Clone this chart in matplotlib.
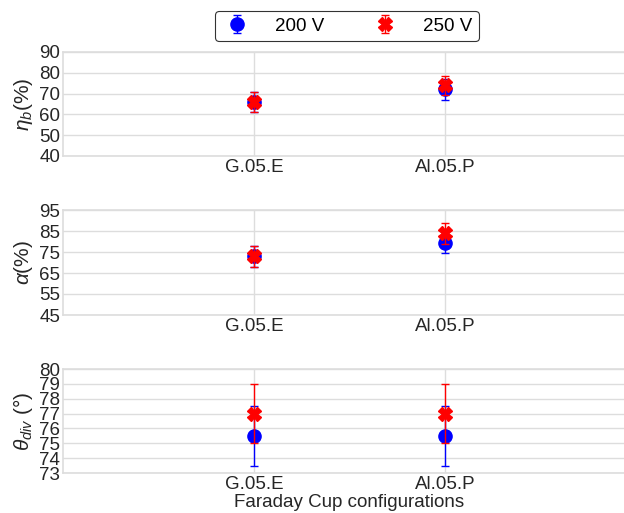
import matplotlib
matplotlib.use("Agg")
import matplotlib.pyplot as plt
import numpy as np

categories = ["G.05.E", "Al.05.P"]
series = ["200 V", "250 V"]

eta_200 = [66, 72]
eta_200_err = [5, 5]
eta_250 = [66, 74]
eta_250_err = [5, 4.5]

alpha_200 = [73, 79.5]
alpha_200_err = [5, 5]
alpha_250 = [73, 84]
alpha_250_err = [5, 5]

theta_200 = [75.5, 75.5]
theta_200_err = [2, 2]
theta_250 = [77, 77]
theta_250_err = [2, 2]

fam = 'Liberation Sans'
plt.rcParams['font.family'] = [fam, 'DejaVu Sans']
plt.rcParams['mathtext.fontset'] = 'custom'
plt.rcParams['mathtext.rm'] = fam
plt.rcParams['mathtext.it'] = fam + ':italic'

W, H = 624, 513
fig = plt.figure(figsize=(W/100, H/100), dpi=100)

def ax_at(x0, y0, x1, y1):
    return fig.add_axes([x0/W, 1 - y1/H, (x1-x0)/W, (y1-y0)/H])

xr = 63 + 3*191
axes = [ax_at(63, 52, xr, 156), ax_at(63, 210, xr, 315), ax_at(63, 369, xr, 473)]

x = np.arange(len(categories))
panels = [
    (eta_200, eta_200_err, eta_250, eta_250_err, (40, 90), np.arange(40, 91, 10), r'$\eta_b(\%)$'),
    (alpha_200, alpha_200_err, alpha_250, alpha_250_err, (45, 95), np.arange(45, 96, 10), r'$\alpha(\%)$'),
    (theta_200, theta_200_err, theta_250, theta_250_err, (73, 80), np.arange(73, 81, 1), r'$\theta_{div}$ (°)'),
]

FS = 13.5
handles = None
for ax, (v1, e1, v2, e2, ylim, yt, ylab) in zip(axes, panels):
    h1 = ax.errorbar(x, v1, yerr=e1, fmt='o', color='blue', ms=9.5, capsize=3, elinewidth=1, capthick=1, label=series[0], zorder=3)
    h2 = ax.errorbar(x, v2, yerr=e2, fmt='X', color='red', ms=9.5, capsize=3, elinewidth=1, capthick=1, label=series[1], zorder=4)
    handles = [h1, h2]
    ax.set_xlim(-1, 2)
    ax.set_ylim(*ylim)
    ax.set_yticks(yt)
    ax.set_xticks(x)
    ax.set_xticklabels(categories)
    ax.grid(True, color='#dddddd', lw=1)
    ax.set_axisbelow(True)
    for s in ax.spines.values():
        s.set_color('#dddddd')
        s.set_linewidth(1.2)
    ax.tick_params(axis='both', labelsize=FS, colors='#262626', length=0, pad=2)
    ax.set_ylabel(ylab, fontsize=15, color='#262626', labelpad=3)

axes[2].set_xlabel('Faraday Cup configurations', fontsize=FS, color='#262626', labelpad=1)

leg = fig.legend(handles, series, loc='center', bbox_to_anchor=(347/W, 1 - 26/H), ncol=2,
                 fontsize=FS, frameon=True, edgecolor='black', fancybox=True,
                 handlelength=1.6, handletextpad=1.25, columnspacing=2.4, borderpad=0.35)
leg.get_frame().set_linewidth(0.8)

fig.savefig('out.png', dpi=100)
